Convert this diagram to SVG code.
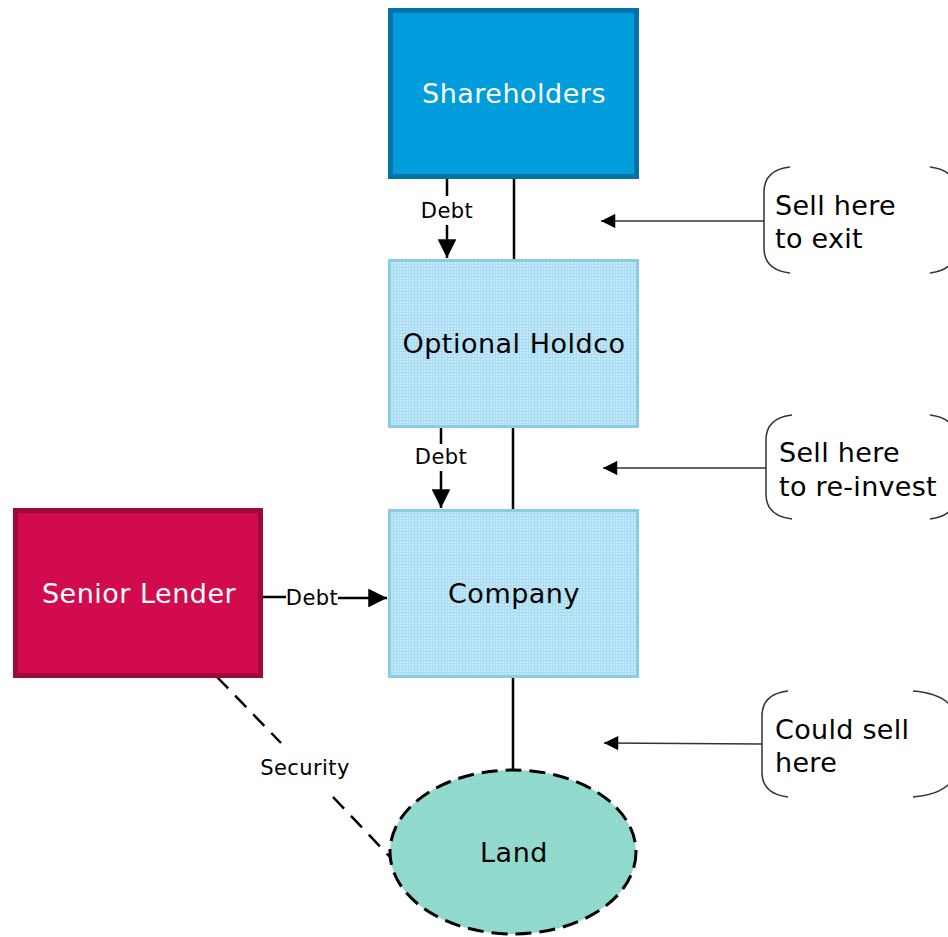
<svg xmlns="http://www.w3.org/2000/svg" width="948" height="937" viewBox="0 0 948 937">
<style>
.lbl{font-family:"DejaVu Sans","Verdana",sans-serif;font-size:27px;letter-spacing:0.5px;text-anchor:middle;}
.small{font-family:"DejaVu Sans","Verdana",sans-serif;font-size:21px;letter-spacing:0.4px;text-anchor:middle;fill:#000;}
.note{font-family:"DejaVu Sans","Verdana",sans-serif;font-size:27px;letter-spacing:0.3px;fill:#000;}
.conn{stroke:#000;stroke-width:2.5;fill:none;}
.dash{stroke:#000;stroke-width:2.5;fill:none;stroke-dasharray:16 10;}
.thin{stroke:#333;stroke-width:1.5;fill:none;}
.brk{stroke:#333;stroke-width:1.5;fill:none;}
</style>
<defs>
<pattern id="grid" width="3" height="3" patternUnits="userSpaceOnUse">
<rect width="3" height="3" fill="#c3e8f8"/>
<path d="M0 0.5H3M0.5 0V3" stroke="#a9dcf2" stroke-width="1"/>
</pattern>
<pattern id="dots" width="3" height="3" patternUnits="userSpaceOnUse">
<rect width="3" height="3" fill="#8fd9cc"/>
<rect x="1" y="1" width="1" height="1" fill="#a2e0d5"/>
</pattern>
<marker id="ah" viewBox="0 0 10 10" refX="10" refY="5" markerWidth="7.5" markerHeight="7.5" markerUnits="strokeWidth" orient="auto">
<path d="M0 0L10 5L0 10Z" fill="#000"/>
</marker>
<marker id="ahs" viewBox="0 0 10 10" refX="10" refY="5" markerWidth="10.5" markerHeight="9.5" markerUnits="strokeWidth" orient="auto">
<path d="M0 0L10 5L0 10Z" fill="#000"/>
</marker>
</defs>

<g id="connectors">
<line class="conn" x1="514" y1="179" x2="514" y2="260"/>
<line class="conn" x1="447" y1="179" x2="447" y2="196"/>
<line class="conn" x1="447" y1="225" x2="447" y2="258" marker-end="url(#ah)"/>
<text class="small" x="447" y="218">Debt</text>
<line class="conn" x1="513" y1="428" x2="513" y2="510"/>
<line class="conn" x1="441" y1="428" x2="441" y2="444"/>
<line class="conn" x1="441" y1="471" x2="441" y2="508" marker-end="url(#ah)"/>
<text class="small" x="441" y="464">Debt</text>
<line class="conn" x1="263" y1="597" x2="286" y2="597"/>
<line class="conn" x1="338" y1="598" x2="387" y2="598" marker-end="url(#ah)"/>
<text class="small" x="312" y="605">Debt</text>
<line class="conn" x1="513" y1="678" x2="513" y2="771"/>
<path class="dash" d="M217 677L281 743M333 797L391 858"/>
<text class="small" x="305" y="775">Security</text>
<line class="thin" x1="764" y1="221" x2="601" y2="221" marker-end="url(#ahs)"/>
<line class="thin" x1="766" y1="468" x2="603" y2="468" marker-end="url(#ahs)"/>
<line class="thin" x1="762" y1="744" x2="604" y2="743" marker-end="url(#ahs)"/>
</g>

<g id="shareholders">
<rect x="390.5" y="10.5" width="246" height="166" fill="#009ddc" stroke="#0074a6" stroke-width="5"/>
<text class="lbl" x="514" y="103" fill="#fff">Shareholders</text>
</g>

<g id="holdco">
<rect x="389.5" y="260.5" width="248" height="166" fill="url(#grid)" stroke="#8ccbe6" stroke-width="3"/>
<text class="lbl" x="514" y="353" fill="#000">Optional Holdco</text>
</g>

<g id="company">
<rect x="389.5" y="510.5" width="248" height="166" fill="url(#grid)" stroke="#8ccbe6" stroke-width="3"/>
<text class="lbl" x="514" y="603" fill="#000">Company</text>
</g>

<g id="senior-lender">
<rect x="15.5" y="510.5" width="245" height="165" fill="#d20b4e" stroke="#a1073c" stroke-width="5"/>
<text class="lbl" x="139" y="603" fill="#fff">Senior Lender</text>
</g>

<g id="land">
<ellipse cx="513" cy="852" rx="123" ry="82" fill="url(#dots)" stroke="#000" stroke-width="3" stroke-dasharray="16 8"/>
<text class="lbl" x="514" y="862" fill="#000">Land</text>
</g>

<g id="note-exit">
<path class="brk" d="M790 167Q764 170 764 192L764 248Q764 270 790 273"/>
<path class="brk" d="M930 167Q956 170 956 192L956 248Q956 270 930 273"/>
<text class="note" x="775" y="215">Sell here</text>
<text class="note" x="775" y="248">to exit</text>
</g>

<g id="note-reinvest">
<path class="brk" d="M792 415Q766 418 766 440L766 494Q766 516 792 519"/>
<path class="brk" d="M930 415Q956 418 956 440L956 494Q956 516 930 519"/>
<text class="note" x="779" y="462">Sell here</text>
<text class="note" x="779" y="496">to re-invest</text>
</g>

<g id="note-could">
<path class="brk" d="M788 691Q762 694 762 716L762 772Q762 794 788 797"/>
<path class="brk" d="M913 691Q950 694 956 716L956 772Q950 794 913 797"/>
<text class="note" x="775" y="739">Could sell</text>
<text class="note" x="775" y="772">here</text>
</g>
</svg>
